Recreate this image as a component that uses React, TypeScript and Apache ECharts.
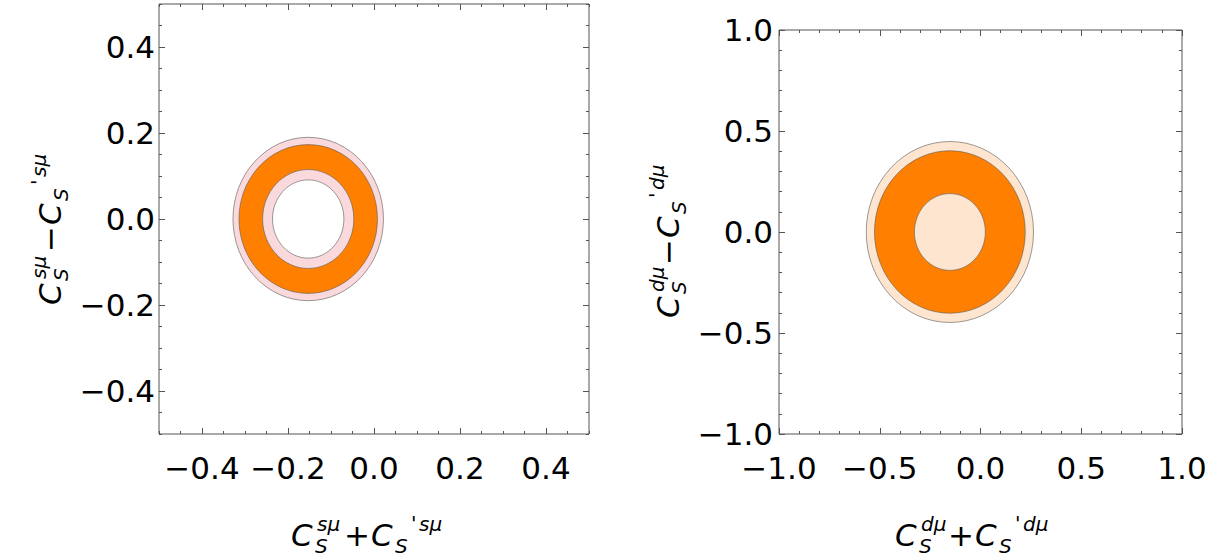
import React, { useEffect, useRef } from 'react';
import * as echarts from 'echarts';

// ---- Data ----
// Left panel: C_S^{sμ} fit regions (nested ellipses, outer → inner)
const leftCenterX = [-0.153, -0.153, -0.153, -0.153];
const leftCenterY = [0.0, 0.0, 0.0, 0.0];
const leftRadiusX = [0.175, 0.161, 0.106, 0.083];
const leftRadiusY = [0.19, 0.173, 0.115, 0.091];

// Right panel: C_S^{dμ} fit regions (outer → inner)
const rightCenterX = [-0.152, -0.152, -0.152];
const rightCenterY = [0.0, 0.0, 0.0];
const rightRadiusX = [0.415, 0.374, 0.176];
const rightRadiusY = [0.448, 0.402, 0.19];

const leftTickLabels = [-0.4, -0.2, 0, 0.2, 0.4];
const rightTickLabels = [-1, -0.5, 0, 0.5, 1];

// ---- Styles ----
const PINK = '#FAD9DC';
const ORANGE = '#FF8000';
const PEACH = '#FDE5CF';
const leftFills = [PINK, ORANGE, PINK, '#FFFFFF'];
const rightFills = [PEACH, ORANGE, PEACH];
const FONT = 'DejaVu Sans';
const TICK_COLOR = '#555';

const fmt = (v: number) => {
  const s = Math.abs(v).toFixed(1);
  return v < -1e-9 ? '\u2212' + s : s;
};

function makeAxes(
  dim: 'x' | 'y',
  gridIndex: number,
  min: number,
  max: number,
  minorStep: number,
  majors: number[],
  labelMargin: number
) {
  const positions = dim === 'x' ? ['bottom', 'top'] : ['left', 'right'];
  const base = {
    gridIndex,
    type: 'value',
    min,
    max,
    interval: minorStep,
    splitLine: { show: false },
    axisLine: { show: false, onZero: false },
  };
  const out: any[] = [];
  positions.forEach((pos, i) => {
    out.push({
      ...base,
      position: pos,
      axisTick: { show: true, inside: true, length: 3, lineStyle: { color: TICK_COLOR, width: 1 } },
      axisLabel:
        i === 0
          ? { show: true, customValues: majors, formatter: fmt, margin: labelMargin, fontSize: 31, fontFamily: FONT, color: '#000' }
          : { show: false },
    });
    out.push({
      ...base,
      position: pos,
      axisTick: { show: true, inside: true, length: 6, customValues: majors, lineStyle: { color: TICK_COLOR, width: 1 } },
      axisLabel: { show: false },
    });
  });
  return out;
}

function titleGroup(cx: number, cy: number, rotation: number, letter: string, op: string) {
  const M = 31;
  const m = 20;
  const x0 = -86;
  const st = (text: string, size: number, align = 'left') => ({
    text,
    fontSize: size,
    fontStyle: 'italic',
    fontFamily: FONT,
    fill: '#000',
    align,
    verticalAlign: 'middle',
  });
  return {
    type: 'group',
    x: cx,
    y: cy,
    rotation,
    children: [
      { type: 'text', x: x0, y: 0, style: st('C', M) },
      { type: 'text', x: x0 + 24, y: 10.5, style: st('S', m) },
      { type: 'text', x: x0 + 26, y: -11, style: st(letter + 'μ', m) },
      { type: 'text', x: x0 + 66, y: 0, style: { ...st(op, M, 'center'), fontStyle: 'normal' } },
      { type: 'text', x: x0 + 80, y: 0, style: st('C', M) },
      { type: 'text', x: x0 + 104, y: 10.5, style: st('S', m) },
      { type: 'text', x: x0 + 120, y: -12, style: { ...st("'", m), fontStyle: 'normal' } },
      { type: 'text', x: x0 + 128, y: -11, style: st(letter + 'μ', m) },
    ],
  };
}

function ellipseSeries(name: string, axisIndex: number, cxs: number[], cys: number[], rxs: number[], rys: number[], fills: string[]) {
  return {
    type: 'custom',
    name,
    xAxisIndex: axisIndex,
    yAxisIndex: axisIndex,
    encode: { x: 0, y: 1 },
    data: cxs.map((cx, i) => [cx, cys[i], rxs[i], rys[i]]),
    renderItem: (params: any, api: any) => {
      const c = api.coord([api.value(0), api.value(1)]);
      const s = api.size([api.value(2), api.value(3)]);
      return {
        type: 'ellipse',
        shape: { cx: c[0], cy: c[1], rx: s[0], ry: s[1] },
        style: { fill: fills[params.dataIndex], stroke: 'rgba(90,90,90,0.75)', lineWidth: 0.8 },
      };
    },
  };
}

export default function App() {
  const ref = useRef<HTMLDivElement>(null);

  useEffect(() => {
    if (!ref.current) return;
    const chart = echarts.init(ref.current, null, { renderer: 'svg' });

    const xAxes = [
      ...makeAxes('x', 0, -0.5, 0.5, 0.05, leftTickLabels, 18),
      ...makeAxes('x', 1, -1, 1, 0.1, rightTickLabels, 18),
    ];
    const yAxes = [
      ...makeAxes('y', 0, -0.5, 0.5, 0.05, leftTickLabels, 4),
      ...makeAxes('y', 1, -1, 1, 0.1, rightTickLabels, 6),
    ];

    chart.setOption({
      animation: false,
      backgroundColor: '#fff',
      grid: [
        { left: 159, top: 4, width: 430, height: 430, show: true, borderColor: '#555', borderWidth: 1, backgroundColor: 'transparent' },
        { left: 779, top: 30, width: 403, height: 404, show: true, borderColor: '#555', borderWidth: 1, backgroundColor: 'transparent' },
      ],
      xAxis: xAxes,
      yAxis: yAxes,
      series: [
        ellipseSeries('C_S^sμ', 0, leftCenterX, leftCenterY, leftRadiusX, leftRadiusY, leftFills),
        ellipseSeries('C_S^dμ', 4, rightCenterX, rightCenterY, rightRadiusX, rightRadiusY, rightFills),
      ],
      graphic: [
        titleGroup(377, 535, 0, 's', '+'),
        titleGroup(50, 219, Math.PI / 2, 's', '\u2212'),
        titleGroup(981, 535, 0, 'd', '+'),
        titleGroup(668, 232, Math.PI / 2, 'd', '\u2212'),
      ],
    });

    return () => chart.dispose();
  }, []);

  return <div ref={ref} style={{ position: 'absolute', left: 0, top: 0, width: 1227, height: 556 }} />;
}
